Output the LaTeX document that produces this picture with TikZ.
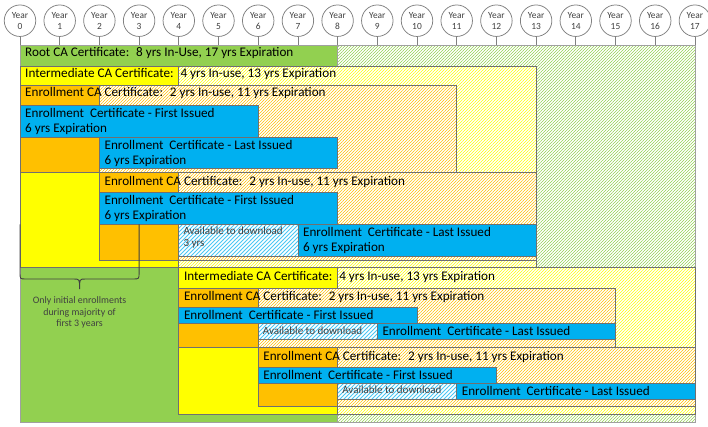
\documentclass[tikz,border=0pt]{standalone}
\usepackage{fontspec}
\setmainfont{Carlito}
\usetikzlibrary{patterns.meta}
\definecolor{cgreen}{HTML}{92D050}
\definecolor{cyellow}{HTML}{FFFF00}
\definecolor{corange}{HTML}{FFC000}
\definecolor{cblue}{HTML}{00B0F0}
\definecolor{cedge}{HTML}{707070}
\definecolor{cedgeroot}{HTML}{A0A0A0}
\definecolor{ctxt}{HTML}{404040}
\newcommand\fntMain{\fontsize{13.15bp}{15bp}\selectfont}
\newcommand\fntSmall{\fontsize{11bp}{12.7bp}\selectfont}
\newcommand\fntNote{\fontsize{9.9bp}{11.5bp}\selectfont}
\newcommand\fntYear{\fontsize{9.4bp}{11bp}\selectfont}
\begin{document}
\begin{tikzpicture}[x=39.7bp, y=-1bp,
  boxedge/.style={draw=cedge, line width=0.75bp},
  hatchbox/.style={boxedge, preaction={fill=white}, pattern={Lines[angle=45,distance=2.1213bp,line width=0.42bp]}, pattern color=#1},
  solidbox/.style={boxedge, fill=#1},
  availbox/.style={boxedge, preaction={fill=white}, pattern={Lines[angle=45,distance=2.8284bp,line width=0.85bp]}, pattern color=cblue!70},
  lbl/.style={anchor=base west, inner sep=0pt, font=\fntMain, xshift=5bp},
  slbl/.style={anchor=base west, inner sep=0pt, font=\fntSmall, text=ctxt, xshift=4.5bp},
  notetext/.style={anchor=base, inner sep=0pt, font=\fntNote, text=ctxt},
  yearc/.style={circle, draw=gray, line width=0.75bp, fill=white, minimum size=31.5bp, inner sep=0pt, align=center, font=\fntYear, text=ctxt},
  ticklink/.style={draw=gray, line width=0.75bp},
  bracepath/.style={draw=ctxt, line width=0.9bp}]
\useasboundingbox (-0.50378,0) rectangle (17.33,427);
% Root
\path[hatchbox=cgreen, draw=cedgeroot] (0,45) rectangle (17,422.7);
\path[solidbox=cgreen, draw=cedgeroot] (0,45) rectangle (8,422.7);
% Intermediate 1
\path[hatchbox=cyellow] (0,66) rectangle (13,267.7);
\path[solidbox=cyellow] (0,66) rectangle (4,267.7);
% ECA 1
\path[hatchbox=corange] (0,85.7) rectangle (11,172.7);
\path[solidbox=corange] (0,85.7) rectangle (2,172.7);
\path[solidbox=cblue] (0,105.3) rectangle (6,137.3);
\path[solidbox=cblue] (2,137.3) rectangle (8,168.3);
% ECA 2
\path[hatchbox=corange] (2,172.7) rectangle (13,260);
\path[solidbox=corange] (2,172.7) rectangle (4,260);
\path[solidbox=cblue] (2,192.7) rectangle (8,224.3);
\path[availbox] (4,224.3) rectangle (7,256);
\path[solidbox=cblue] (7,224.3) rectangle (13,256);
% Intermediate 2
\path[hatchbox=cyellow] (4,267.7) rectangle (17,414.3);
\path[solidbox=cyellow] (4,267.7) rectangle (8,414.3);
% ECA 3
\path[hatchbox=corange] (4,288.3) rectangle (15,347.3);
\path[solidbox=corange] (4,288.3) rectangle (6,347.3);
\path[solidbox=cblue] (4,307.7) rectangle (10,323.3);
\path[availbox] (6,323.3) rectangle (9,339);
\path[solidbox=cblue] (9,323.3) rectangle (15,339);
% ECA 4
\path[hatchbox=corange] (6,347.3) rectangle (17,406.7);
\path[solidbox=corange] (6,347.3) rectangle (8,406.7);
\path[solidbox=cblue] (6,367.7) rectangle (12,383.3);
\path[availbox] (8,383.3) rectangle (11,399.3);
\path[solidbox=cblue] (11,383.3) rectangle (17,399.3);
% Year circles
\foreach \n in {0,...,17}{
  \node[yearc] (yr\n) at (\n,20.7) {Year\\\n};
  \coordinate (tk\n) at (\n,45);
  \draw[ticklink] (yr\n.south) -- (tk\n);
}
% Labels
\node[lbl] (tRoot) at (0,56.9) {Root CA Certificate:~ 8 yrs In-Use, 17 yrs Expiration};
\node[lbl] (tInt1) at (0,77.2) {Intermediate CA Certificate:~ 4 yrs In-use, 13 yrs Expiration};
\node[lbl] (tEca1) at (0,96.7) {Enrollment CA Certificate:~ 2 yrs In-use, 11 yrs Expiration};
\node[lbl] (tFi1a) at (0,117) {Enrollment~ Certificate - First Issued};
\node[lbl] (tFi1b) at (0,132) {6 yrs Expiration};
\node[lbl] (tLi1a) at (2,149) {Enrollment~ Certificate - Last Issued};
\node[lbl] (tLi1b) at (2,164.3) {6 yrs Expiration};
\node[lbl] (tEca2) at (2,185) {Enrollment CA Certificate:~ 2 yrs In-use, 11 yrs Expiration};
\node[lbl] (tFi2a) at (2,204.2) {Enrollment~ Certificate - First Issued};
\node[lbl] (tFi2b) at (2,219.7) {6 yrs Expiration};
\node[slbl] (tAv2a) at (4,234) {Available to download};
\node[slbl] (tAv2b) at (4,246.7) {3 yrs};
\node[lbl] (tLi2a) at (7,236) {Enrollment~ Certificate - Last Issued};
\node[lbl] (tLi2b) at (7,251) {6 yrs Expiration};
\node[lbl] (tInt2) at (4,280.2) {Intermediate CA Certificate:~ 4 yrs In-use, 13 yrs Expiration};
\node[lbl] (tEca3) at (4,300) {Enrollment CA Certificate:~ 2 yrs In-use, 11 yrs Expiration};
\node[lbl] (tFi3) at (4,319.3) {Enrollment~ Certificate - First Issued};
\node[slbl] (tAv3) at (6,334) {Available to download};
\node[lbl] (tLi3) at (9,335.3) {Enrollment~ Certificate - Last Issued};
\node[lbl] (tEca4) at (6,360) {Enrollment CA Certificate:~ 2 yrs In-use, 11 yrs Expiration};
\node[lbl] (tFi4) at (6,379.2) {Enrollment~ Certificate - First Issued};
\node[slbl] (tAv4) at (8,393.3) {Available to download};
\node[lbl] (tLi4) at (11,395.3) {Enrollment~ Certificate - Last Issued};
% Brace
\draw[bracepath] (0,224.3) -- (0,272.5) .. controls (0,279) .. ([xshift=6bp]0,279)
  -- ([xshift=-6bp]1.5,279) .. controls (1.5,279) .. (1.5,289)
  .. controls (1.5,279) .. ([xshift=6bp]1.5,279)
  -- ([xshift=-6bp]3,279) .. controls (3,279) .. (3,272.5) -- (3,224.3);
\node[notetext] (n1) at (1.5,303.3) {Only initial enrollments};
\node[notetext] (n2) at (1.5,315) {during majority of};
\node[notetext] (n3) at (1.5,326.5) {first 3 years};
\end{tikzpicture}
\end{document}
